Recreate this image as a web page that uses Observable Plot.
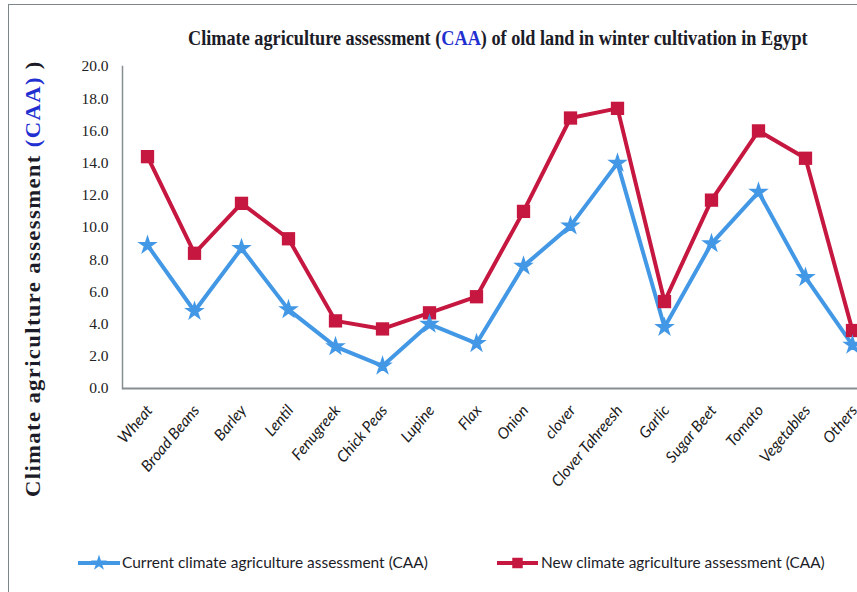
<!DOCTYPE html>
<html>
<head>
<meta charset="utf-8">
<script src="https://cdn.jsdelivr.net/npm/d3@7"></script>
<script src="https://cdn.jsdelivr.net/npm/@observablehq/plot@0.6"></script>
<style>
  html, body { margin: 0; padding: 0; background: #fff; overflow: hidden; }
  #figure { position: relative; width: 857px; height: 592px; overflow: hidden; background: #fff; }
  #figure > svg { position: absolute; left: 0; top: 0; max-width: none !important; }
  #frame { position: absolute; left: 8px; top: 4px; width: 1200px; height: 900px; border: 1.5px solid #7d878a; box-sizing: border-box; }
</style>
</head>
<body>
<div id="figure"><div id="frame"></div></div>
<script>
// Winter crops on old land
const crops = ["Wheat", "Broad Beans", "Barley", "Lentil", "Fenugreek", "Chick Peas", "Lupine", "Flax",
  "Onion", "clover", "Clover Tahreesh", "Garlic", "Sugar Beet", "Tomato", "Vegetables", "Others"];

// Climate agriculture assessment (CAA) per crop
const currentCAA = [8.9, 4.8, 8.7, 4.9, 2.6, 1.4, 4.0, 2.8, 7.6, 10.1, 14.0, 3.8, 9.0, 12.2, 6.9, 2.7];
const newCAA = [14.4, 8.4, 11.5, 9.3, 4.2, 3.7, 4.7, 5.7, 11.0, 16.8, 17.4, 5.4, 11.7, 16.0, 14.3, 3.6];

const seriesNames = ["Current climate agriculture assessment (CAA)", "New climate agriculture assessment (CAA)"];
const seriesColors = ["#4398e6", "#c5173f"];
const yTicks = [0, 2, 4, 6, 8, 10, 12, 14, 16, 18, 20];

const rows = [
  ...crops.map((crop, i) => ({crop, value: currentCAA[i], series: seriesNames[0]})),
  ...crops.map((crop, i) => ({crop, value: newCAA[i], series: seriesNames[1]}))
];
const currentRows = rows.filter(d => d.series === seriesNames[0]);
const newRows = rows.filter(d => d.series === seriesNames[1]);

const chart = Plot.plot({
  width: 900,
  height: 530,
  marginLeft: 122,
  marginRight: 23,
  marginTop: 66,
  marginBottom: 142,
  style: {background: "transparent", overflow: "visible", maxWidth: "none"},
  x: {domain: crops, type: "point", padding: 0.5, label: null},
  y: {domain: [0, 20], label: null},
  color: {domain: seriesNames, range: seriesColors},
  marks: [
    Plot.axisY({
      ticks: yTicks, tickFormat: d => d.toFixed(1), tickSize: 0, tickPadding: 14,
      fontFamily: "Liberation Serif", fontSize: 15.5, fill: "#222", label: null
    }),
    Plot.axisX({
      tickRotate: -50, tickSize: 0, tickPadding: 19, dx: 2,
      fontFamily: "Lato", fontStyle: "italic", fontSize: 15.5, fill: "#1a1a1a", label: null
    }),
    Plot.frame({anchor: "left", stroke: "#868e91", strokeWidth: 1.5}),
    Plot.ruleY([0], {stroke: "#868e91", strokeWidth: 2}),
    Plot.line(rows, {x: "crop", y: "value", z: "series", stroke: "series", strokeWidth: 4}),
    Plot.dot(newRows, {x: "crop", y: "value", symbol: "square", r: 7.5, fill: "series", stroke: "none"}),
    Plot.dot(currentRows, {x: "crop", y: "value", symbol: "star", r: 5, fill: "series", stroke: "series", strokeWidth: 1.5})
  ]
});
chart.style.maxWidth = "none";
chart.style.height = "530px";
document.getElementById("figure").appendChild(chart);

// Title, vertical axis title and legend drawn in an overlay
const overlay = d3.select("#figure").append("svg")
  .attr("width", 857).attr("height", 592)
  .style("pointer-events", "none");

// Fit a text element horizontally into a given width by scaling it
function fitWidth(sel, x, y, width, rotate) {
  const natural = sel.node().getComputedTextLength();
  const sx = width / natural;
  sel.attr("transform", `translate(${x},${y})${rotate ? " rotate(-90)" : ""} scale(${sx},1)`);
}

const title = overlay.append("text")
  .attr("font-family", "Liberation Serif").attr("font-weight", "bold").attr("font-size", 21)
  .attr("fill", "#1c1c28");
title.append("tspan").text("Climate agriculture assessment (");
title.append("tspan").attr("fill", "#1f2fd0").text("CAA");
title.append("tspan").text(") of old land in winter cultivation in Egypt");
fitWidth(title, 188, 45, 620, false);

const ylab = overlay.append("text")
  .attr("font-family", "Liberation Serif").attr("font-weight", "bold").attr("font-size", 20)
  .attr("letter-spacing", 1.2)
  .attr("fill", "#1c1c28");
ylab.append("tspan").text("Climate   agriculture   assessment ");
ylab.append("tspan").attr("fill", "#1f2fd0").text("(CAA)");
ylab.append("tspan").text(" )");
fitWidth(ylab, 40, 497, 437, true);

// Legend
const legendItems = [
  {x1: 78, x2: 120, tx: 122, tw: 306, symbol: d3.symbolStar, size: 80},
  {x1: 497, x2: 538, tx: 541, tw: 284, symbol: d3.symbolSquare, size: 110}
];
const ly = 563;
legendItems.forEach((item, i) => {
  const g = overlay.append("g");
  g.append("line")
    .attr("x1", item.x1).attr("x2", item.x2).attr("y1", ly).attr("y2", ly)
    .attr("stroke", seriesColors[i]).attr("stroke-width", 4);
  g.append("path")
    .attr("transform", `translate(${(item.x1 + item.x2) / 2},${ly})`)
    .attr("d", d3.symbol(item.symbol, item.size)())
    .attr("fill", seriesColors[i]);
  const t = g.append("text")
    .attr("font-family", "Lato").attr("font-size", 16).attr("fill", "#1c1c28")
    .text(seriesNames[i]);
  fitWidth(t, item.tx, ly + 5, item.tw, false);
});
</script>
</body>
</html>
